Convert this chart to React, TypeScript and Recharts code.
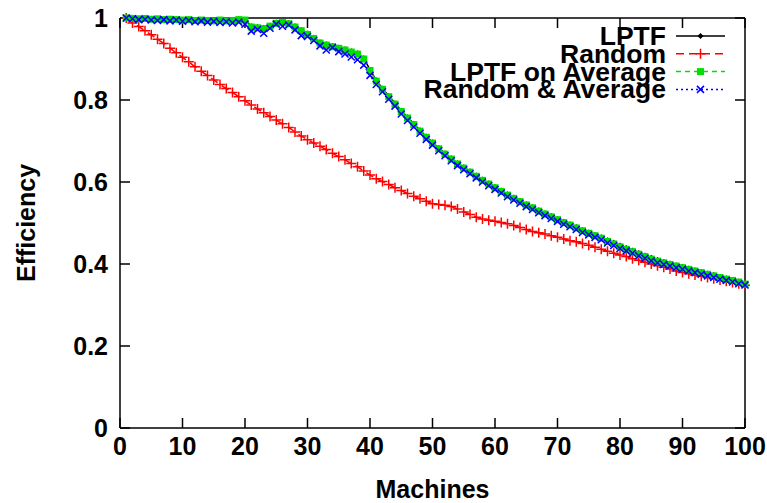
import React from 'react';
import { LineChart, Line, XAxis, YAxis } from 'recharts';

const machines: number[] = Array.from({ length: 100 }, (_, i) => i + 1);

const lptf: number[] = [
  1.0, 0.999, 0.999, 0.999, 0.998, 0.998, 0.997, 0.998, 0.997, 0.996,
  0.997, 0.995, 0.996, 0.995, 0.994, 0.996, 0.994, 0.995, 0.997, 0.996,
  0.980, 0.978, 0.976, 0.982, 0.989, 0.991, 0.988, 0.980, 0.971, 0.962,
  0.952, 0.941, 0.936, 0.932, 0.928, 0.924, 0.919, 0.914, 0.902, 0.874,
  0.848, 0.828, 0.810, 0.792, 0.774, 0.758, 0.742, 0.726, 0.711, 0.697,
  0.683, 0.670, 0.658, 0.646, 0.636, 0.626, 0.616, 0.606, 0.597, 0.588,
  0.579, 0.570, 0.562, 0.554, 0.546, 0.539, 0.531, 0.524, 0.517, 0.510,
  0.503, 0.497, 0.490, 0.483, 0.477, 0.471, 0.465, 0.458, 0.452, 0.445,
  0.439, 0.433, 0.427, 0.421, 0.415, 0.410, 0.405, 0.401, 0.397, 0.393,
  0.389, 0.385, 0.381, 0.377, 0.373, 0.369, 0.365, 0.361, 0.357, 0.353,
];

const random: number[] = [
  1.0, 0.988, 0.979, 0.969, 0.959, 0.948, 0.938, 0.926, 0.915, 0.904,
  0.893, 0.881, 0.870, 0.860, 0.849, 0.838, 0.828, 0.818, 0.808, 0.798,
  0.788, 0.778, 0.769, 0.760, 0.751, 0.742, 0.733, 0.722, 0.712, 0.703,
  0.695, 0.687, 0.679, 0.670, 0.662, 0.654, 0.645, 0.637, 0.627, 0.617,
  0.608, 0.601, 0.594, 0.586, 0.579, 0.572, 0.565, 0.559, 0.553, 0.547,
  0.545, 0.543, 0.540, 0.534, 0.527, 0.521, 0.514, 0.510, 0.507, 0.504,
  0.501, 0.498, 0.494, 0.489, 0.484, 0.479, 0.476, 0.473, 0.469, 0.465,
  0.461, 0.457, 0.454, 0.450, 0.446, 0.441, 0.436, 0.431, 0.426, 0.422,
  0.418, 0.413, 0.409, 0.404, 0.400, 0.396, 0.392, 0.388, 0.383, 0.379,
  0.376, 0.373, 0.370, 0.367, 0.364, 0.361, 0.358, 0.355, 0.352, 0.348,
];

const lptfAverage: number[] = [
  1.0, 0.999, 0.998, 0.999, 0.997, 0.998, 0.996, 0.997, 0.996, 0.995,
  0.996, 0.994, 0.995, 0.994, 0.993, 0.995, 0.993, 0.994, 0.996, 0.995,
  0.978, 0.976, 0.974, 0.980, 0.987, 0.989, 0.986, 0.978, 0.969, 0.960,
  0.950, 0.939, 0.934, 0.930, 0.926, 0.922, 0.917, 0.912, 0.900, 0.872,
  0.846, 0.826, 0.808, 0.790, 0.772, 0.756, 0.740, 0.724, 0.709, 0.695,
  0.681, 0.668, 0.656, 0.644, 0.634, 0.624, 0.614, 0.604, 0.595, 0.586,
  0.577, 0.568, 0.560, 0.552, 0.544, 0.537, 0.529, 0.522, 0.515, 0.508,
  0.501, 0.495, 0.488, 0.481, 0.475, 0.469, 0.463, 0.455, 0.449, 0.442,
  0.436, 0.430, 0.424, 0.418, 0.412, 0.407, 0.403, 0.399, 0.395, 0.391,
  0.387, 0.383, 0.379, 0.375, 0.371, 0.367, 0.363, 0.360, 0.356, 0.351,
];

const randomAverage: number[] = [
  1.0, 0.998, 0.996, 0.997, 0.995, 0.994, 0.996, 0.993, 0.995, 0.992,
  0.994, 0.991, 0.993, 0.990, 0.992, 0.989, 0.991, 0.988, 0.990, 0.985,
  0.968, 0.972, 0.963, 0.975, 0.985, 0.980, 0.983, 0.971, 0.957, 0.955,
  0.945, 0.932, 0.922, 0.928, 0.918, 0.912, 0.905, 0.898, 0.885, 0.860,
  0.838, 0.820, 0.802, 0.785, 0.766, 0.750, 0.734, 0.719, 0.704, 0.690,
  0.676, 0.664, 0.652, 0.640, 0.630, 0.620, 0.610, 0.600, 0.591, 0.582,
  0.573, 0.564, 0.556, 0.548, 0.540, 0.533, 0.525, 0.518, 0.511, 0.504,
  0.497, 0.491, 0.484, 0.477, 0.471, 0.465, 0.459, 0.451, 0.445, 0.438,
  0.432, 0.426, 0.420, 0.414, 0.408, 0.403, 0.399, 0.395, 0.391, 0.387,
  0.383, 0.379, 0.375, 0.371, 0.367, 0.363, 0.360, 0.356, 0.352, 0.349,
];

const xTicks: number[] = [0, 10, 20, 30, 40, 50, 60, 70, 80, 90, 100];
const yTicks: number[] = [0, 0.2, 0.4, 0.6, 0.8, 1];

const seriesNames = ['LPTF', 'Random', 'LPTF on Average', 'Random & Average'];

const data = machines.map((m, i) => ({
  m,
  lptf: lptf[i],
  random: random[i],
  lptfAverage: lptfAverage[i],
  randomAverage: randomAverage[i],
}));

const FONT = '"Liberation Sans", Arial, Helvetica, sans-serif';

const Diamond = ({ cx, cy, color }: any) => (
  <path d={`M${cx},${cy - 3} L${cx + 3},${cy} L${cx},${cy + 3} L${cx - 3},${cy} Z`} fill={color} stroke="none" />
);
const Plus = ({ cx, cy, color }: any) => (
  <path d={`M${cx - 5},${cy} L${cx + 5},${cy} M${cx},${cy - 5} L${cx},${cy + 5}`} stroke={color} strokeWidth={1.5} fill="none" />
);
const Square = ({ cx, cy, color }: any) => (
  <rect x={cx - 3.5} y={cy - 3.5} width={7} height={7} fill={color} stroke="none" />
);
const Cross = ({ cx, cy, color }: any) => (
  <path d={`M${cx - 3.5},${cy - 3.5} L${cx + 3.5},${cy + 3.5} M${cx - 3.5},${cy + 3.5} L${cx + 3.5},${cy - 3.5}`} stroke={color} strokeWidth={1.5} fill="none" />
);

const makeDot = (Comp: any, color: string) => (props: any) => {
  const { cx, cy, index } = props;
  if (cx == null || cy == null) return <g key={`d-${index}`} />;
  return <Comp key={`d-${index}`} cx={cx} cy={cy} color={color} />;
};

const legendDefs = [
  { color: '#000000', dash: undefined, Marker: Diamond },
  { color: '#ff0000', dash: '8 5', Marker: Plus },
  { color: '#00e000', dash: '5 4', Marker: Square },
  { color: '#0000ff', dash: '2 3', Marker: Cross },
];

const LegendBlock = () => (
  <g>
    {seriesNames.map((name, i) => {
      const y = 36 + i * 17.8;
      const def = legendDefs[i];
      const Marker = def.Marker;
      return (
        <g key={name}>
          <text
            x={666}
            y={y + 9}
            textAnchor="end"
            fontFamily={FONT}
            fontWeight="bold"
            fontSize={26.5}
            fill="#000"
          >
            {name}
          </text>
          <line x1={676} x2={725} y1={y} y2={y} stroke={def.color} strokeWidth={1.5} strokeDasharray={def.dash} />
          <Marker cx={700.5} cy={y} color={def.color} />
        </g>
      );
    })}
  </g>
);

const tickStyle = { fontFamily: FONT, fontWeight: 'bold', fontSize: 25, fill: '#000' };
const axisLineStyle = { stroke: '#000', strokeWidth: 1.5 };

export default function App() {
  return (
    <div style={{ position: 'absolute', left: 0, top: 0, width: 767, height: 503, background: '#fff' }}>
      <LineChart
        width={767}
        height={503}
        data={data}
        margin={{ top: 17, right: 21, bottom: 0, left: 0 }}
      >
        <XAxis
          dataKey="m"
          type="number"
          domain={[0, 100]}
          ticks={xTicks}
          height={75}
          axisLine={axisLineStyle}
          tickLine={axisLineStyle}
          tickSize={-10}
          tickMargin={19}
          tick={tickStyle}
          interval={0}
          label={{
            content: (p: any) => {
              const vb = p.viewBox || {};
              return (
                <text
                  x={vb.x + vb.width / 2}
                  y={vb.y + vb.height - 5}
                  textAnchor="middle"
                  fontFamily={FONT}
                  fontWeight="bold"
                  fontSize={25}
                  fill="#000"
                >
                  Machines
                </text>
              );
            },
          }}
        />
        <XAxis
          xAxisId="top"
          dataKey="m"
          type="number"
          orientation="top"
          domain={[0, 100]}
          ticks={xTicks}
          height={1}
          axisLine={axisLineStyle}
          tickLine={axisLineStyle}
          tickSize={-10}
          tickFormatter={() => ''}
          interval={0}
        />
        <YAxis
          type="number"
          domain={[0, 1]}
          ticks={yTicks}
          width={120}
          axisLine={axisLineStyle}
          tickLine={axisLineStyle}
          tickSize={-10}
          tickMargin={22}
          tick={tickStyle}
          interval={0}
          tickFormatter={(v: number) => String(v)}
          label={{
            content: (p: any) => {
              const vb = p.viewBox || {};
              const cx = vb.x + 26;
              const cy = vb.y + vb.height / 2;
              return (
                <text
                  x={cx}
                  y={cy}
                  transform={`rotate(-90 ${cx} ${cy})`}
                  textAnchor="middle"
                  dominantBaseline="central"
                  fontFamily={FONT}
                  fontWeight="bold"
                  fontSize={25}
                  fill="#000"
                >
                  Efficiency
                </text>
              );
            },
          }}
        />
        <YAxis
          yAxisId="right"
          type="number"
          orientation="right"
          domain={[0, 1]}
          ticks={yTicks}
          width={1}
          axisLine={axisLineStyle}
          tickLine={axisLineStyle}
          tickSize={-10}
          tickFormatter={() => ''}
          interval={0}
        />
        <Line
          xAxisId="top"
          yAxisId="right"
          dataKey="lptf"
          stroke="none"
          dot={false}
          activeDot={false}
          legendType="none"
          isAnimationActive={false}
        />
        <Line
          dataKey="lptf"
          stroke="#000000"
          strokeWidth={1.5}
          dot={makeDot(Diamond, '#000000')}
          isAnimationActive={false}
        />
        <Line
          dataKey="random"
          stroke="#ff0000"
          strokeWidth={1.5}
          strokeDasharray="8 5"
          dot={makeDot(Plus, '#ff0000')}
          isAnimationActive={false}
        />
        <Line
          dataKey="lptfAverage"
          stroke="#00e000"
          strokeWidth={1.5}
          strokeDasharray="5 4"
          dot={makeDot(Square, '#00e000')}
          isAnimationActive={false}
        />
        <Line
          dataKey="randomAverage"
          stroke="#0000ff"
          strokeWidth={1.5}
          strokeDasharray="2 3"
          dot={makeDot(Cross, '#0000ff')}
          isAnimationActive={false}
        />
        <LegendBlock />
      </LineChart>
    </div>
  );
}
